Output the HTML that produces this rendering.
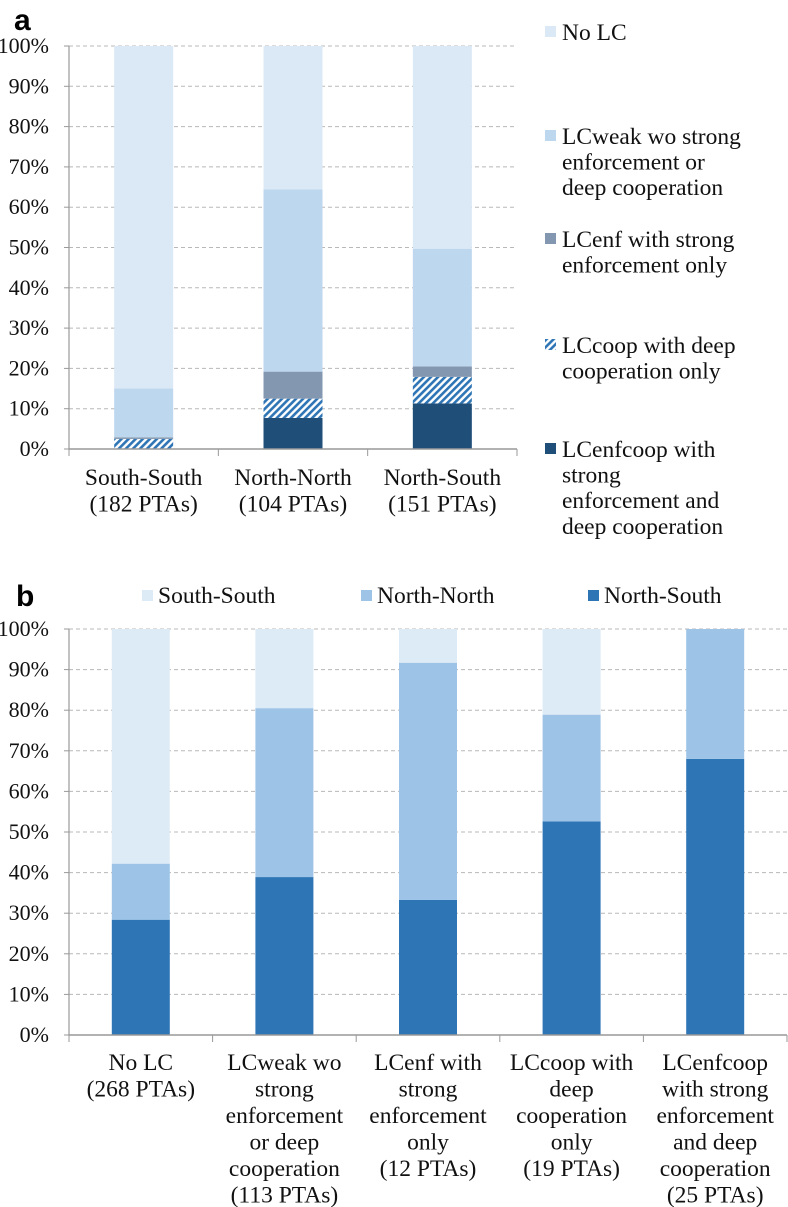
<!DOCTYPE html>
<html><head><meta charset="utf-8"><style>
html,body{margin:0;padding:0;background:#fff;}
svg{display:block;font-family:"Liberation Serif",serif;}
</style></head><body>
<svg id="s" width="788" height="1207" viewBox="0 0 788 1207" xmlns="http://www.w3.org/2000/svg">
<defs>
<pattern id="hatch" patternUnits="userSpaceOnUse" width="5" height="5" patternTransform="rotate(45)">
<rect width="5" height="5" fill="#ffffff"/><rect width="2.6" height="5" fill="#2e75b6"/>
</pattern>
</defs>
</svg>
<script>
// Chart a data
const aCategories = [["South-South","(182 PTAs)"],["North-North","(104 PTAs)"],["North-South","(151 PTAs)"]];
const aSeriesNames = [["LCenfcoop with","strong","enforcement and","deep cooperation"],["LCcoop with deep","cooperation only"],["LCenf with strong","enforcement only"],["LCweak wo strong","enforcement or","deep cooperation"],["No LC"]];
const aEnfcoop = [0, 7.7, 11.3];
const aCoop = [2.5, 4.8, 6.6];
const aEnf = [0.4, 6.7, 2.6];
const aWeak = [12.1, 45.2, 29.2];
const aNoLC = [85, 35.6, 50.3];
const aTicks = ["0%","10%","20%","30%","40%","50%","60%","70%","80%","90%","100%"];
// Chart b data
const bCategories = [["No LC","(268 PTAs)"],["LCweak wo","strong","enforcement","or deep","cooperation","(113 PTAs)"],["LCenf with","strong","enforcement","only","(12 PTAs)"],["LCcoop with","deep","cooperation","only","(19 PTAs)"],["LCenfcoop","with strong","enforcement","and deep","cooperation","(25 PTAs)"]];
const bSeriesNames = ["South-South","North-North","North-South"];
const bNS = [28.4, 38.9, 33.3, 52.6, 68];
const bNN = [13.8, 41.6, 58.4, 26.3, 32];
const bSS = [57.8, 19.5, 8.3, 21.1, 0];
const bTicks = ["0%","10%","20%","30%","40%","50%","60%","70%","80%","90%","100%"];

const svg = document.getElementById('s');
const NS='http://www.w3.org/2000/svg';
function mk(tag, attrs, parent){const e=document.createElementNS(NS,tag);for(const k in attrs)e.setAttribute(k,attrs[k]);(parent||svg).appendChild(e);return e;}

function chart(cfg){
  const g = mk('g',{});
  
  
  const y = v => cfg.y0 - (v/100)*(cfg.y0-cfg.y100);
  const n = cfg.cats.length;
  const step = (cfg.xr - cfg.x0)/n;
  const xc = i => cfg.x0 + step*(i+0.5);
  cfg.ticks.forEach((t,i)=>{
    const v=i*10;
    if(v>0){const l=mk('line',{x1:cfg.x0,x2:cfg.xr,y1:y(v),y2:y(v),stroke:'#b8b8b8','stroke-width':1,'stroke-dasharray':'4,3'},g);
      
      }
    const tk=mk('line',{x1:cfg.x0-5,x2:cfg.x0,y1:y(v),y2:y(v),stroke:'#999','stroke-width':1},g);
    
    
    const tx=mk('text',{x:cfg.x0-20,y:y(v)+7,'text-anchor':'end','font-size':22,fill:'#111'},g);
    tx.textContent=t;
    
    
  });
  for(let i=0;i<n;i++){
    let acc=0;
    cfg.series.forEach((s,si)=>{
      const v=s[i];
      if(v>0){
        const r=mk('rect',{x:xc(i)-cfg.bw/2,y:y(acc+v),width:cfg.bw,height:y(acc)-y(acc+v),fill:cfg.fills[si]},g);
        
        
      }
      acc+=v;
    });
    const lab=mk('text',{'text-anchor':'middle','font-size':23.5,fill:'#111'},g);
    
    
    cfg.cats[i].forEach((line,li)=>{const ts=mk('tspan',{x:xc(i),y:cfg.labY+li*26.5},lab);ts.textContent=line;});
  }
  const ya=mk('line',{x1:cfg.x0,x2:cfg.x0,y1:cfg.y100,y2:cfg.y0,stroke:'#999','stroke-width':1.2},g);
  
  
  const xa=mk('line',{x1:cfg.x0,x2:cfg.xr,y1:cfg.y0,y2:cfg.y0,stroke:'#999','stroke-width':1.5},g);
  
  
  for(let i=0;i<=n;i++){
    const x=cfg.x0+step*i;
    const t=mk('line',{x1:x,x2:x,y1:cfg.y0,y2:cfg.y0+7,stroke:'#999','stroke-width':1},g);
    
    
  }
}

chart({name:'chart-a',x0:69,xr:517,y0:449,y100:46,bw:59,labY:485,cats:aCategories,ticks:aTicks,
  series:[aEnfcoop,aCoop,aEnf,aWeak,aNoLC],
  fills:['#1f4e79','url(#hatch)','#8497b0','#bdd7ee','#dbe8f5'],
  segNames:['lcenfcoop','lccoop','lcenf','lcweak','no-lc']});
chart({name:'chart-b',x0:69,xr:787,y0:1035,y100:629,bw:58,labY:1070,cats:bCategories,ticks:bTicks,
  series:[bNS,bNN,bSS],
  fills:['#2e75b6','#9dc3e6','#ddebf7'],
  segNames:['north-south','north-north','south-south']});

const pa=mk('text',{x:14,y:30,'font-size':30,'font-weight':'bold','font-family':'Liberation Sans, sans-serif',fill:'#000'});
pa.textContent='a';


const pb=mk('text',{x:16,y:606,'font-size':30,'font-weight':'bold','font-family':'Liberation Sans, sans-serif',fill:'#000'});
pb.textContent='b';



const aLegFills=['#1f4e79','url(#hatch)','#8497b0','#bdd7ee','#dbe8f5'];
const aLegY=[457,353,247,144,40];
aSeriesNames.forEach((lines,i)=>{
  const gg=mk('g',{});
  
  
  mk('rect',{x:545,y:aLegY[i]-14,width:11,height:11,fill:aLegFills[i]},gg);
  const t=mk('text',{'font-size':23.5,fill:'#111'},gg);
  lines.forEach((l,li)=>{const ts=mk('tspan',{x:562,y:aLegY[i]+li*25.6},t);ts.textContent=l;});
});
const bLegFills=['#ddebf7','#9dc3e6','#2e75b6'];
const bLegX=[142,361,588];
bSeriesNames.forEach((nm,i)=>{
  const gg=mk('g',{});
  
  
  mk('rect',{x:bLegX[i],y:590,width:11,height:11,fill:bLegFills[i]},gg);
  const t=mk('text',{x:bLegX[i]+16,y:603,'font-size':23.5,fill:'#111'},gg);
  t.textContent=nm;
});
</script>
</body></html>
